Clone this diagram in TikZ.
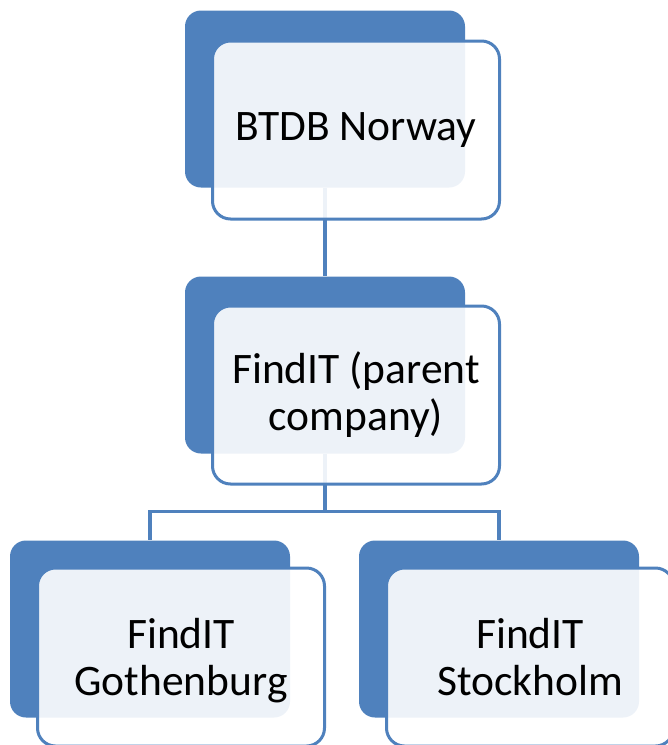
\documentclass[tikz,border=0pt]{standalone}
\usepackage{fontspec}
\setmainfont{Carlito}
\usetikzlibrary{positioning}
\definecolor{orgblue}{HTML}{4F81BD}

\begin{document}
\begin{tikzpicture}[x=1pt,y=1pt,on grid,
	back/.style={rectangle,rounded corners=16pt,fill=orgblue,minimum width=280pt,minimum height=177pt,inner sep=0pt},
	front/.style={rectangle,rounded corners=18pt,draw=orgblue,line width=3pt,fill=white,fill opacity=0.9,text opacity=1,text=black,minimum width=287pt,minimum height=178pt,inner sep=0pt,align=center,font=\fontsize{43.5}{47}\selectfont},
	link/.style={draw=orgblue,line width=3.2pt}]
	\useasboundingbox (0,0) rectangle (668,-745);
	% dark back plates
	\node[back] (bNorway) at (325,-99) {};
	\node[back] (bParent) [below=266pt of bNorway] {};
	\node[back] (bGoth) [below left=264pt and 175pt of bParent] {};
	\node[back] (bStock) [below right=264pt and 174pt of bParent] {};
	% connectors
	\coordinate[below=58pt of bParent.south] (split);
	\path[link] (bNorway.south) -- (bParent.north);
	\path[link] (bParent.south) -- (split) -| (bGoth.north);
	\path[link] (split) -| (bStock.north);
	% front boxes with text
	\node[front] (norway) [below right=31pt and 31pt of bNorway] {BTDB Norway};
	\node[front] (parent) [below right=30pt and 31pt of bParent] {FindIT (parent\\company)};
	\node[front] (goth) [below right=28pt and 31pt of bGoth] {FindIT\\\smash{Gothenburg}};
	\node[front] (stock) [below right=28pt and 31pt of bStock] {FindIT\\Stockholm};
\end{tikzpicture}
\end{document}
